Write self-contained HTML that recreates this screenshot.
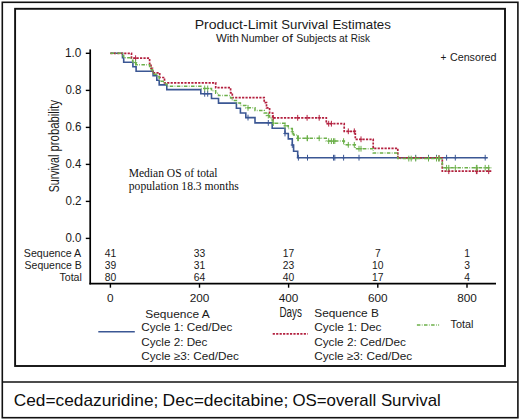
<!DOCTYPE html>
<html><head><meta charset="utf-8"><style>
html,body{margin:0;padding:0;background:#fff;width:520px;height:420px;overflow:hidden}
svg{display:block}
</style></head><body>
<svg width="520" height="420" viewBox="0 0 520 420">
<rect x="2.3" y="2.3" width="515.6" height="415.4" fill="none" stroke="#111" stroke-width="1.6"/>
<line x1="2.3" y1="382.0" x2="517.8" y2="382.0" stroke="#111" stroke-width="1.6"/>
<rect x="15.1" y="8.8" width="489.9" height="357.2" fill="none" stroke="#111" stroke-width="1.9"/>
<line x1="90.2" y1="49.4" x2="90.2" y2="284.4" stroke="#000" stroke-width="1.7"/>
<line x1="89.4" y1="283.6" x2="496" y2="283.6" stroke="#000" stroke-width="1.7"/>
<line x1="85.8" y1="53.3" x2="90.2" y2="53.3" stroke="#000" stroke-width="1.4"/>
<line x1="85.8" y1="90.4" x2="90.2" y2="90.4" stroke="#000" stroke-width="1.4"/>
<line x1="85.8" y1="127.4" x2="90.2" y2="127.4" stroke="#000" stroke-width="1.4"/>
<line x1="85.8" y1="164.4" x2="90.2" y2="164.4" stroke="#000" stroke-width="1.4"/>
<line x1="85.8" y1="201.4" x2="90.2" y2="201.4" stroke="#000" stroke-width="1.4"/>
<line x1="85.8" y1="238.4" x2="90.2" y2="238.4" stroke="#000" stroke-width="1.4"/>
<line x1="110.4" y1="283.6" x2="110.4" y2="287.7" stroke="#000" stroke-width="1.4"/>
<line x1="199.5" y1="283.6" x2="199.5" y2="287.7" stroke="#000" stroke-width="1.4"/>
<line x1="288.6" y1="283.6" x2="288.6" y2="287.7" stroke="#000" stroke-width="1.4"/>
<line x1="377.8" y1="283.6" x2="377.8" y2="287.7" stroke="#000" stroke-width="1.4"/>
<line x1="467.0" y1="283.6" x2="467.0" y2="287.7" stroke="#000" stroke-width="1.4"/>
<path d="M110.4,53.30H122.50V57.80H123.70V62.20H132.90V66.70H136.10V71.20H153.10V75.60H156.80V80.20H159.20V84.90H166.80V89.60H200.80V93.80H211.50V98.50H218.50V103.10H236.40V108.30H240.40V113.00H245.80V117.60H255.00V122.90H272.20V128.20H285.00V133.50H288.30V138.90H292.30V145.00H293.60V151.20H297.70V157.70H487.80" fill="none" stroke="#3b5794" stroke-width="1.6"/>
<path d="M204.70,90.90V96.70M203.10,93.80H206.30M207.70,90.90V96.70M206.10,93.80H209.30M248.00,114.70V120.50M246.40,117.60H249.60M268.30,120.00V125.80M266.70,122.90H269.90M285.00,130.60V136.40M283.40,133.50H286.60M292.30,142.10V147.90M290.70,145.00H293.90M298.40,154.80V160.60M296.80,157.70H300.00M307.50,154.80V160.60M305.90,157.70H309.10M333.50,154.80V160.60M331.90,157.70H335.10M334.80,154.80V160.60M333.20,157.70H336.40M343.60,154.80V160.60M342.00,157.70H345.20M359.00,154.80V160.60M357.40,157.70H360.60M415.70,154.80V160.60M414.10,157.70H417.30M428.50,154.80V160.60M426.90,157.70H430.10M436.50,154.80V160.60M434.90,157.70H438.10M446.60,154.80V160.60M445.00,157.70H448.20M455.30,154.80V160.60M453.70,157.70H456.90M485.20,154.80V160.60M483.60,157.70H486.80" fill="none" stroke="#3b5794" stroke-width="1"/>
<path d="M110.4,53.30H131.50V58.20H149.60V63.60H151.00V68.40H152.50V72.80H159.70V77.50H164.50V82.80H215.70V87.70H230.60V92.80H232.30V97.60H264.20V102.70H266.50V107.80H269.60V113.00H272.70V117.80H326.30V123.70H344.20V131.30H355.30V139.30H373.20V148.30H397.80V157.90H442.30V171.20H491.30" fill="none" stroke="#b3203f" stroke-width="1.7" stroke-dasharray="2.2 1.25"/>
<path d="M135.60,55.30V61.10M134.00,58.20H137.20M273.30,114.90V120.70M271.70,117.80H274.90M297.70,114.90V120.70M296.10,117.80H299.30M307.10,114.90V120.70M305.50,117.80H308.70M319.20,114.90V120.70M317.60,117.80H320.80M328.70,120.80V126.60M327.10,123.70H330.30M331.40,120.80V126.60M329.80,123.70H333.00M348.30,128.40V134.20M346.70,131.30H349.90M354.30,128.40V134.20M352.70,131.30H355.90M361.00,136.40V142.20M359.40,139.30H362.60M439.00,155.00V160.80M437.40,157.90H440.60M448.80,168.30V174.10M447.20,171.20H450.40M476.40,168.30V174.10M474.80,171.20H478.00M477.00,168.30V174.10M475.40,171.20H478.60M488.70,168.30V174.10M487.10,171.20H490.30" fill="none" stroke="#b3203f" stroke-width="1"/>
<path d="M110.4,53.30H122.50V55.61H123.70V57.86H131.50V60.25H132.90V62.56H136.10V64.86H149.60V67.50H151.00V69.84H152.50V71.98H153.10V74.23H156.80V76.59H159.20V79.00H159.70V81.29H164.50V83.88H166.80V86.28H200.80V88.44H211.50V90.85H215.70V93.23H218.50V95.59H230.60V98.08H232.30V100.42H236.40V103.08H240.40V105.49H245.80V107.85H255.00V110.57H264.20V113.05H266.50V115.54H269.60V118.07H272.20V120.79H272.70V123.13H285.00V125.85H288.30V128.61H292.30V131.74H293.60V134.92H297.70V138.25H326.30V141.12H344.20V144.83H355.30V148.73H373.20V153.12H397.80V158.60H442.30V167.80H491.30" fill="none" stroke="#6cb04a" stroke-width="1.5" stroke-dasharray="3.5 1.4 0.7 1.5"/>
<path d="M135.60,59.66V65.46M134.00,62.56H137.20M204.70,85.54V91.34M203.10,88.44H206.30M207.70,85.54V91.34M206.10,88.44H209.30M248.00,104.95V110.75M246.40,107.85H249.60M268.30,112.64V118.44M266.70,115.54H269.90M273.30,120.23V126.03M271.70,123.13H274.90M285.00,122.95V128.75M283.40,125.85H286.60M292.30,128.84V134.64M290.70,131.74H293.90M297.70,135.35V141.15M296.10,138.25H299.30M298.40,135.35V141.15M296.80,138.25H300.00M307.10,135.35V141.15M305.50,138.25H308.70M307.50,135.35V141.15M305.90,138.25H309.10M319.20,135.35V141.15M317.60,138.25H320.80M328.70,138.22V144.03M327.10,141.12H330.30M331.40,138.22V144.03M329.80,141.12H333.00M333.50,138.22V144.03M331.90,141.12H335.10M334.80,138.22V144.03M333.20,141.12H336.40M343.60,138.22V144.03M342.00,141.12H345.20M348.30,141.93V147.73M346.70,144.83H349.90M354.30,141.93V147.73M352.70,144.83H355.90M359.00,145.83V151.63M357.40,148.73H360.60M361.00,145.83V151.63M359.40,148.73H362.60M408.80,155.70V161.50M407.20,158.60H410.40M411.20,155.70V161.50M409.60,158.60H412.80M415.70,155.70V161.50M414.10,158.60H417.30M428.50,155.70V161.50M426.90,158.60H430.10M436.50,155.70V161.50M434.90,158.60H438.10M438.80,155.70V161.50M437.20,158.60H440.40M439.00,155.70V161.50M437.40,158.60H440.60M446.60,164.90V170.70M445.00,167.80H448.20M448.80,164.90V170.70M447.20,167.80H450.40M455.30,164.90V170.70M453.70,167.80H456.90M476.40,164.90V170.70M474.80,167.80H478.00M477.00,164.90V170.70M475.40,167.80H478.60M485.20,164.90V170.70M483.60,167.80H486.80M488.70,164.90V170.70M487.10,167.80H490.30" fill="none" stroke="#6cb04a" stroke-width="1"/>

<line x1="98.3" y1="331.7" x2="134.8" y2="331.7" stroke="#3b5794" stroke-width="1.6"/>
<line x1="272.7" y1="333.9" x2="307.8" y2="333.9" stroke="#b3203f" stroke-width="1.7" stroke-dasharray="2.2 1.25"/>
<line x1="416.9" y1="324.9" x2="439.1" y2="324.9" stroke="#6cb04a" stroke-width="1.5" stroke-dasharray="3.5 1.4 0.7 1.5"/>
<text x="194.65" y="29.40" style="font-family:'Liberation Sans',sans-serif;font-size:13.4px;fill:#1a1a1a" textLength="82.70" lengthAdjust="spacingAndGlyphs">Product-Limit</text>
<text x="281.30" y="29.40" style="font-family:'Liberation Sans',sans-serif;font-size:13.4px;fill:#1a1a1a" textLength="46.83" lengthAdjust="spacingAndGlyphs">Survival</text>
<text x="332.51" y="29.40" style="font-family:'Liberation Sans',sans-serif;font-size:13.4px;fill:#1a1a1a" textLength="58.37" lengthAdjust="spacingAndGlyphs">Estimates</text>
<text x="215.95" y="42.10" style="font-family:'Liberation Sans',sans-serif;font-size:10.7px;fill:#1a1a1a" textLength="23.00" lengthAdjust="spacingAndGlyphs">With</text>
<text x="241.03" y="42.10" style="font-family:'Liberation Sans',sans-serif;font-size:10.7px;fill:#1a1a1a" textLength="37.64" lengthAdjust="spacingAndGlyphs">Number</text>
<text x="281.74" y="42.10" style="font-family:'Liberation Sans',sans-serif;font-size:10.7px;fill:#1a1a1a" textLength="11.14" lengthAdjust="spacingAndGlyphs">of</text>
<text x="296.22" y="42.10" style="font-family:'Liberation Sans',sans-serif;font-size:10.7px;fill:#1a1a1a" textLength="40.26" lengthAdjust="spacingAndGlyphs">Subjects</text>
<text x="339.06" y="42.10" style="font-family:'Liberation Sans',sans-serif;font-size:10.7px;fill:#1a1a1a" textLength="8.61" lengthAdjust="spacingAndGlyphs">at</text>
<text x="350.79" y="42.10" style="font-family:'Liberation Sans',sans-serif;font-size:10.7px;fill:#1a1a1a" textLength="19.20" lengthAdjust="spacingAndGlyphs">Risk</text>
<text x="440.41" y="60.80" style="font-family:'Liberation Sans',sans-serif;font-size:10.9px;fill:#1a1a1a" textLength="5.89" lengthAdjust="spacingAndGlyphs">+</text>
<text x="449.96" y="60.80" style="font-family:'Liberation Sans',sans-serif;font-size:10.9px;fill:#1a1a1a" textLength="46.43" lengthAdjust="spacingAndGlyphs">Censored</text>
<text transform="translate(58.8,0) rotate(-90)" x="-192.18" y="0" style="font-family:&quot;Liberation Sans&quot;,sans-serif;font-size:14.5px;fill:#1a1a1a" textLength="37.48" lengthAdjust="spacingAndGlyphs">Survival</text>
<text transform="translate(58.8,0) rotate(-90)" x="-151.43" y="0" style="font-family:&quot;Liberation Sans&quot;,sans-serif;font-size:14.5px;fill:#1a1a1a" textLength="51.45" lengthAdjust="spacingAndGlyphs">probability</text>
<text x="128.67" y="176.80" style="font-family:'Liberation Serif',serif;font-size:12.6px;fill:#111" textLength="88.86" lengthAdjust="spacingAndGlyphs">Median OS of total</text>
<text x="128.81" y="189.90" style="font-family:'Liberation Serif',serif;font-size:12.6px;fill:#111" textLength="109.91" lengthAdjust="spacingAndGlyphs">population 18.3 months</text>
<text x="65.00" y="57.20" style="font-family:'Liberation Sans',sans-serif;font-size:12px;fill:#1a1a1a" textLength="16.46" lengthAdjust="spacingAndGlyphs">1.0</text>
<text x="65.45" y="94.30" style="font-family:'Liberation Sans',sans-serif;font-size:12px;fill:#1a1a1a" textLength="16.05" lengthAdjust="spacingAndGlyphs">0.8</text>
<text x="65.45" y="131.30" style="font-family:'Liberation Sans',sans-serif;font-size:12px;fill:#1a1a1a" textLength="16.06" lengthAdjust="spacingAndGlyphs">0.6</text>
<text x="65.45" y="168.30" style="font-family:'Liberation Sans',sans-serif;font-size:12px;fill:#1a1a1a" textLength="15.88" lengthAdjust="spacingAndGlyphs">0.4</text>
<text x="65.45" y="205.30" style="font-family:'Liberation Sans',sans-serif;font-size:12px;fill:#1a1a1a" textLength="16.14" lengthAdjust="spacingAndGlyphs">0.2</text>
<text x="65.45" y="242.30" style="font-family:'Liberation Sans',sans-serif;font-size:12px;fill:#1a1a1a" textLength="16.00" lengthAdjust="spacingAndGlyphs">0.0</text>
<text x="110.40" y="302.00" text-anchor="middle" style="font-family:&quot;Liberation Sans&quot;,sans-serif;font-size:11.8px;fill:#1a1a1a">0</text>
<text x="199.50" y="302.00" text-anchor="middle" style="font-family:&quot;Liberation Sans&quot;,sans-serif;font-size:11.8px;fill:#1a1a1a">200</text>
<text x="288.60" y="302.00" text-anchor="middle" style="font-family:&quot;Liberation Sans&quot;,sans-serif;font-size:11.8px;fill:#1a1a1a">400</text>
<text x="377.80" y="302.00" text-anchor="middle" style="font-family:&quot;Liberation Sans&quot;,sans-serif;font-size:11.8px;fill:#1a1a1a">600</text>
<text x="467.00" y="302.00" text-anchor="middle" style="font-family:&quot;Liberation Sans&quot;,sans-serif;font-size:11.8px;fill:#1a1a1a">800</text>
<text x="23.82" y="256.70" style="font-family:'Liberation Sans',sans-serif;font-size:11.3px;fill:#1a1a1a" textLength="57.40" lengthAdjust="spacingAndGlyphs">Sequence A</text>
<text x="24.62" y="268.80" style="font-family:'Liberation Sans',sans-serif;font-size:11.3px;fill:#1a1a1a" textLength="57.13" lengthAdjust="spacingAndGlyphs">Sequence B</text>
<text x="59.47" y="280.80" style="font-family:'Liberation Sans',sans-serif;font-size:11.3px;fill:#1a1a1a" textLength="22.40" lengthAdjust="spacingAndGlyphs">Total</text>
<text x="110.40" y="256.60" text-anchor="middle" style="font-family:&quot;Liberation Sans&quot;,sans-serif;font-size:10.3px;fill:#1a1a1a">41</text>
<text x="199.50" y="256.60" text-anchor="middle" style="font-family:&quot;Liberation Sans&quot;,sans-serif;font-size:10.3px;fill:#1a1a1a">33</text>
<text x="288.60" y="256.60" text-anchor="middle" style="font-family:&quot;Liberation Sans&quot;,sans-serif;font-size:10.3px;fill:#1a1a1a">17</text>
<text x="377.80" y="256.60" text-anchor="middle" style="font-family:&quot;Liberation Sans&quot;,sans-serif;font-size:10.3px;fill:#1a1a1a">7</text>
<text x="467.00" y="256.60" text-anchor="middle" style="font-family:&quot;Liberation Sans&quot;,sans-serif;font-size:10.3px;fill:#1a1a1a">1</text>
<text x="110.40" y="268.60" text-anchor="middle" style="font-family:&quot;Liberation Sans&quot;,sans-serif;font-size:10.3px;fill:#1a1a1a">39</text>
<text x="199.50" y="268.60" text-anchor="middle" style="font-family:&quot;Liberation Sans&quot;,sans-serif;font-size:10.3px;fill:#1a1a1a">31</text>
<text x="288.60" y="268.60" text-anchor="middle" style="font-family:&quot;Liberation Sans&quot;,sans-serif;font-size:10.3px;fill:#1a1a1a">23</text>
<text x="377.80" y="268.60" text-anchor="middle" style="font-family:&quot;Liberation Sans&quot;,sans-serif;font-size:10.3px;fill:#1a1a1a">10</text>
<text x="467.00" y="268.60" text-anchor="middle" style="font-family:&quot;Liberation Sans&quot;,sans-serif;font-size:10.3px;fill:#1a1a1a">3</text>
<text x="110.40" y="281.10" text-anchor="middle" style="font-family:&quot;Liberation Sans&quot;,sans-serif;font-size:10.3px;fill:#1a1a1a">80</text>
<text x="199.50" y="281.10" text-anchor="middle" style="font-family:&quot;Liberation Sans&quot;,sans-serif;font-size:10.3px;fill:#1a1a1a">64</text>
<text x="288.60" y="281.10" text-anchor="middle" style="font-family:&quot;Liberation Sans&quot;,sans-serif;font-size:10.3px;fill:#1a1a1a">40</text>
<text x="377.80" y="281.10" text-anchor="middle" style="font-family:&quot;Liberation Sans&quot;,sans-serif;font-size:10.3px;fill:#1a1a1a">17</text>
<text x="467.00" y="281.10" text-anchor="middle" style="font-family:&quot;Liberation Sans&quot;,sans-serif;font-size:10.3px;fill:#1a1a1a">4</text>
<text x="145.26" y="317.90" style="font-family:'Liberation Sans',sans-serif;font-size:11.3px;fill:#1a1a1a" textLength="64.46" lengthAdjust="spacingAndGlyphs">Sequence A</text>
<text x="141.20" y="331.40" style="font-family:'Liberation Sans',sans-serif;font-size:11.3px;fill:#1a1a1a" textLength="91.20" lengthAdjust="spacingAndGlyphs">Cycle 1: Ced/Dec</text>
<text x="141.21" y="345.70" style="font-family:'Liberation Sans',sans-serif;font-size:11.3px;fill:#1a1a1a" textLength="66.20" lengthAdjust="spacingAndGlyphs">Cycle 2: Dec</text>
<text x="141.20" y="360.40" style="font-family:'Liberation Sans',sans-serif;font-size:11.3px;fill:#1a1a1a" textLength="97.70" lengthAdjust="spacingAndGlyphs">Cycle ≥3: Ced/Dec</text>
<text x="279.39" y="316.80" style="font-family:'Liberation Sans',sans-serif;font-size:14px;fill:#1a1a1a" textLength="22.47" lengthAdjust="spacingAndGlyphs">Days</text>
<text x="314.26" y="316.50" style="font-family:'Liberation Sans',sans-serif;font-size:11.3px;fill:#1a1a1a" textLength="64.66" lengthAdjust="spacingAndGlyphs">Sequence B</text>
<text x="314.20" y="331.30" style="font-family:'Liberation Sans',sans-serif;font-size:11.3px;fill:#1a1a1a" textLength="67.32" lengthAdjust="spacingAndGlyphs">Cycle 1: Dec</text>
<text x="314.20" y="345.80" style="font-family:'Liberation Sans',sans-serif;font-size:11.3px;fill:#1a1a1a" textLength="91.71" lengthAdjust="spacingAndGlyphs">Cycle 2: Ced/Dec</text>
<text x="314.20" y="360.20" style="font-family:'Liberation Sans',sans-serif;font-size:11.3px;fill:#1a1a1a" textLength="98.01" lengthAdjust="spacingAndGlyphs">Cycle ≥3: Ced/Dec</text>
<text x="450.47" y="328.20" style="font-family:'Liberation Sans',sans-serif;font-size:11.3px;fill:#1a1a1a" textLength="22.92" lengthAdjust="spacingAndGlyphs">Total</text>
<text x="13.72" y="405.80" style="font-family:'Liberation Sans',sans-serif;font-size:16.1px;fill:#0d0d0d" textLength="144.63" lengthAdjust="spacingAndGlyphs">Ced=cedazuridine;</text>
<text x="162.57" y="405.80" style="font-family:'Liberation Sans',sans-serif;font-size:16.1px;fill:#0d0d0d" textLength="125.80" lengthAdjust="spacingAndGlyphs">Dec=decitabine;</text>
<text x="292.40" y="405.80" style="font-family:'Liberation Sans',sans-serif;font-size:16.1px;fill:#0d0d0d" textLength="148.43" lengthAdjust="spacingAndGlyphs">OS=overall Survival</text>
</svg>
</body></html>
